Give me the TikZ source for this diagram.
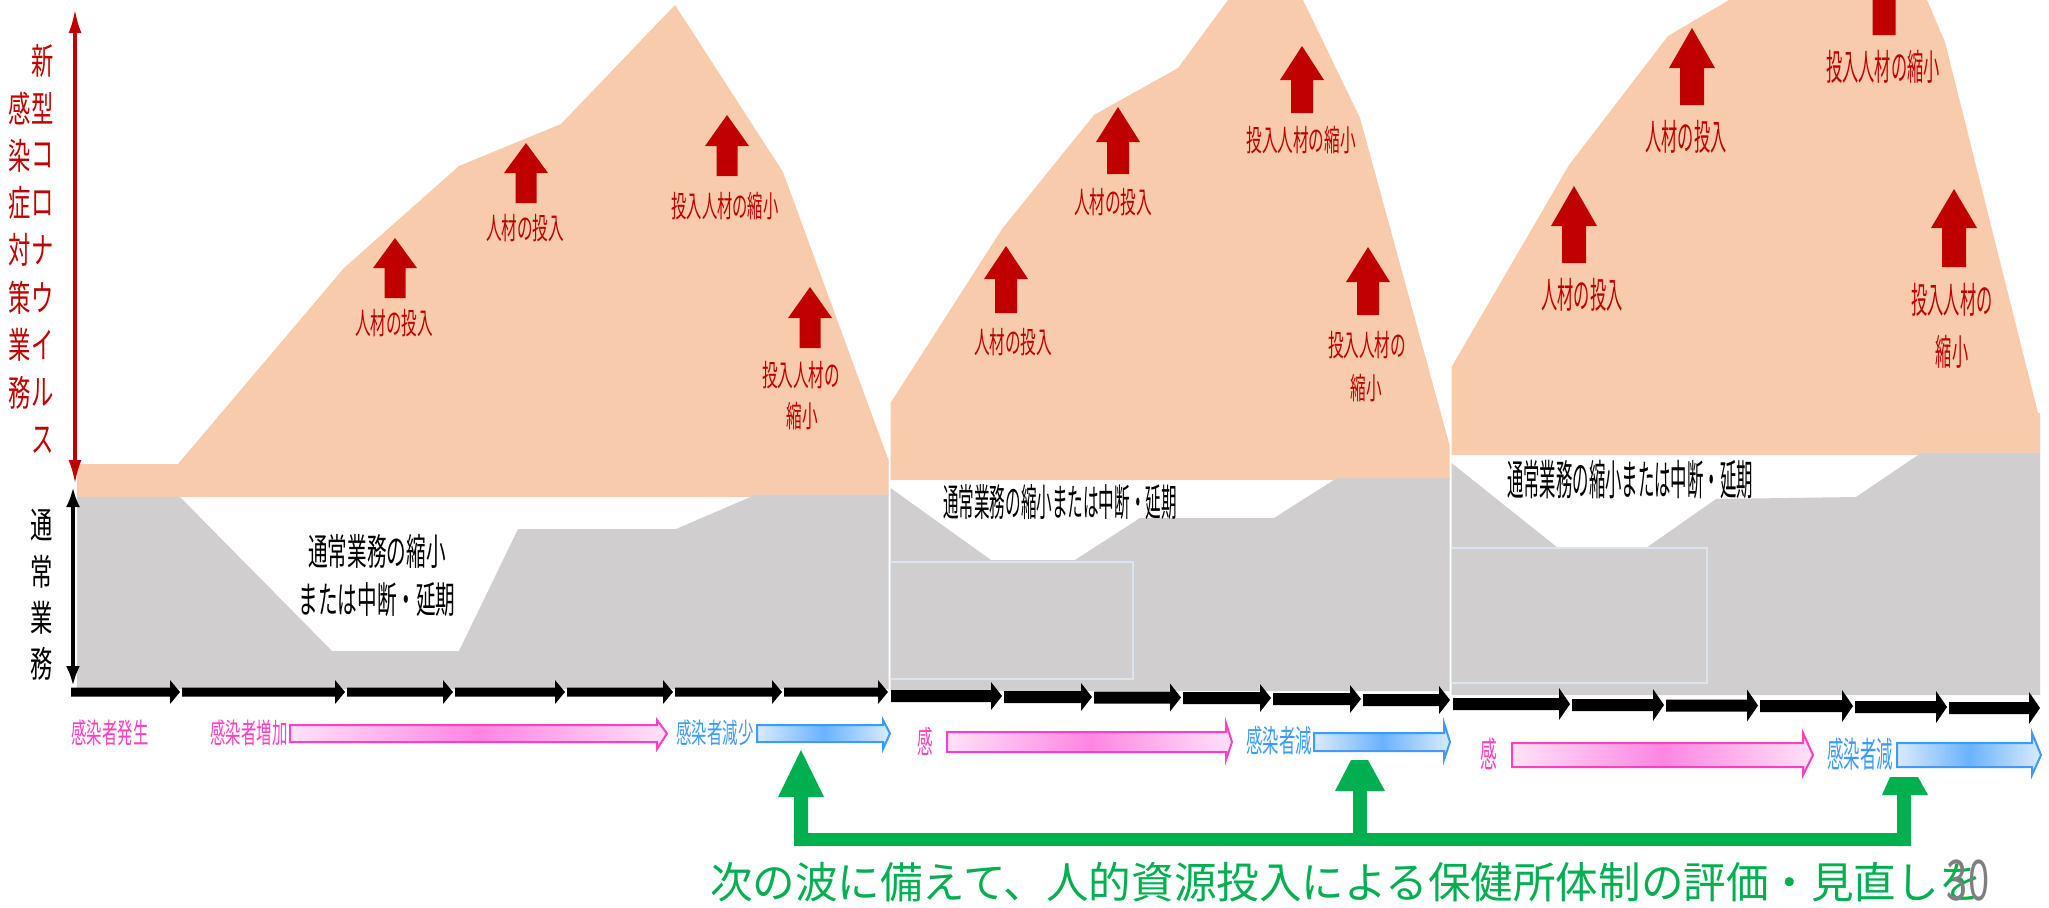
\documentclass[tikz,border=0pt]{standalone}
\usepackage{fontspec}
\setmainfont{Noto Sans CJK JP}
\usepackage{graphicx}
\usetikzlibrary{arrows.meta}
\definecolor{ora}{HTML}{F8CBAD}
\definecolor{gry}{HTML}{D0CECE}
\definecolor{dred}{HTML}{C00000}
\definecolor{pnk}{HTML}{FF3FC3}
\definecolor{blu}{HTML}{3D9BFF}
\definecolor{grn}{HTML}{00B050}
\definecolor{pnkL}{HTML}{FFE2F7}
\definecolor{pnkM}{HTML}{FF85E3}
\definecolor{bluL}{HTML}{D9EBFF}
\definecolor{bluM}{HTML}{6AB2FF}
\definecolor{boxln}{HTML}{DCE4F0}
\definecolor{pgnum}{HTML}{7F7F7F}
\newcommand{\sqz}[2]{\scalebox{#1}[1]{#2}}
% red block up arrow: xc, tip, base, bottom, head half, shaft half
\newcommand{\uparr}[6]{\fill[dred] (#1,#2) -- ({#1+#5},#3) -- ({#1+#6},#3) -- ({#1+#6},#4) -- ({#1-#6},#4) -- ({#1-#6},#3) -- ({#1-#5},#3) -- cycle;}
% black axis segment: x1, x2(tip), yc, shaft half, head half, head length
\newcommand{\seg}[6]{\fill[black] (#1,{#3-#4}) -- ({#2-#6},{#3-#4}) -- ({#2-#6},{#3-#5}) -- (#2,#3) -- ({#2-#6},{#3+#5}) -- ({#2-#6},{#3+#4}) -- (#1,{#3+#4}) -- cycle;}
% block arrow: x1, head start, tip, body top, body bottom, head top, head bottom, style
\newcommand{\barw}[8]{\path[#8] (#1,#4) -- (#2,#4) -- (#2,#6) -- (#3,{(#4+#5)/2}) -- (#2,#7) -- (#2,#5) -- (#1,#5) -- cycle;}
\begin{document}
\begin{tikzpicture}[x=0.5pt,y=-0.5pt,
  txt/.style={inner sep=0pt, outer sep=0pt},
  redlbl/.style={txt, text=dred, font=\fontsize{15pt}{18pt}\selectfont},
  redlblb/.style={txt, text=dred, font=\fontsize{18pt}{21pt}\selectfont},
  vred/.style={txt, text=dred, font=\fontsize{18pt}{21pt}\selectfont},
  vblk/.style={txt, text=black, font=\fontsize{18pt}{21pt}\selectfont},
  blk/.style={txt, text=black},
  pk/.style={txt, text=pnk},
  bl/.style={txt, text=blu},
  pinkarrow/.style={draw=pnk, line width=1pt, left color=pnkL, right color=pnkL, middle color=pnkM},
  bluearrow/.style={draw=blu, line width=1pt, left color=bluL, right color=bluL, middle color=bluM},
  redaxis/.style={draw=dred, line width=1.75pt, {Latex[length=12pt,width=6.5pt]}-{Latex[length=12pt,width=6.5pt]}},
  blkaxis/.style={draw=black, line width=2pt, {Latex[length=10pt,width=7pt]}-{Latex[length=10pt,width=7pt]}},
  faint/.style={draw=boxln, line width=0.8pt}
]
\useasboundingbox (0,0) rectangle (2049,907);
\clip (0,0) rectangle (2049,907);
\fill[white] (0,0) rectangle (2049,907);

% ---------- wave 1 ----------
\fill[ora] (77,497) -- (77,464) -- (178,464) -- (344,268) -- (459,166) -- (561,124) -- (675,5) -- (783,172) -- (888.5,460) -- (888.5,497) -- cycle;
\fill[gry] (77,497) -- (180,497) -- (332,651) -- (459,651) -- (518,529) -- (676,529) -- (755,495) -- (888.5,495) -- (888.5,689) -- (77,689) -- cycle;

% ---------- wave 2 ----------
\fill[ora] (890.5,480) -- (890.5,403) -- (1002,229) -- (1094,115) -- (1178,68) -- (1228,0) -- (1303,0) -- (1360,118) -- (1449.5,445) -- (1449.5,480) -- cycle;
\fill[gry] (890.5,488) -- (991,560) -- (1075,560) -- (1140,518) -- (1274,518) -- (1337,478) -- (1449.5,478) -- (1449.5,691) -- (890.5,691) -- cycle;
\draw[faint] (890.5,562) rectangle (1133,679);

% ---------- wave 3 ----------
\fill[ora] (1451.5,455) -- (1451.5,367) -- (1569,165) -- (1668,36) -- (1729,0) -- (1927,0) -- (1945,42) -- (2038,413) -- (2040,413) -- (2040,455) -- cycle;
\fill[gry] (1451.5,463) -- (1558,548) -- (1646,548) -- (1716,499) -- (1856,497) -- (1921,453) -- (2040,453) -- (2040,695) -- (1451.5,695) -- cycle;
\draw[faint] (1451.5,548) rectangle (1707,683);

% ---------- axes ----------
\coordinate (rtop) at (75,9);
\coordinate (rbot) at (75,484);
\draw[redaxis] (rtop) -- (rbot);
\coordinate (btop) at (73,487);
\coordinate (bbot) at (73,686);
\draw[blkaxis] (btop) -- (bbot);

% time arrows wave 1
\seg{71}{180}{692}{4.5}{12}{10}
\seg{182}{345}{692}{4.5}{12}{10}
\seg{347}{453}{692}{4.5}{12}{10}
\seg{455}{565}{692}{4.5}{12}{10}
\seg{567}{673}{692}{4.5}{12}{10}
\seg{675}{782}{692}{4.5}{12}{10}
\seg{784}{888}{692}{4.5}{12}{10}
% wave 2
\seg{891}{1002}{696}{6}{14}{11}
\seg{1004}{1092}{697}{6}{14}{11}
\seg{1094}{1181}{697.5}{6}{14}{11}
\seg{1183}{1271}{698}{6}{14}{11}
\seg{1273}{1361}{699}{6}{14}{11}
\seg{1363}{1450}{700}{6}{14}{11}
% wave 3
\seg{1453}{1570}{704}{6}{16}{11}
\seg{1572}{1664}{705}{6}{16}{11}
\seg{1666}{1758}{705.5}{6}{16}{11}
\seg{1760}{1853}{706}{6}{16}{11}
\seg{1855}{1947}{707}{6}{16}{11}
\seg{1949}{2040}{708}{6}{16}{11}

% ---------- red block arrows ----------
\uparr{395}{238}{268}{298}{22}{10.5}
\uparr{526}{143}{173}{203}{22}{10.5}
\uparr{727}{115}{146}{176}{22}{10.5}
\uparr{810}{287}{318}{348}{22}{10.5}
\uparr{1006}{246}{279}{313}{22}{11}
\uparr{1118}{107}{142}{174}{22}{11}
\uparr{1302}{46}{80}{113}{22}{11}
\uparr{1368}{247}{282}{315}{22}{11}
\uparr{1574}{186}{226}{263}{23}{12}
\uparr{1692}{28}{68}{105}{23}{12}
\uparr{1884}{-45}{-5}{35}{23}{11.5}
\uparr{1954}{189}{228}{267}{23}{12}

% ---------- red labels ----------
\node[redlbl] (lA) at (394,323) {\sqz{0.52}{人材の投入}};
\node[redlbl] (lB) at (525,228) {\sqz{0.52}{人材の投入}};
\node[redlbl] (lC) at (725,206) {\sqz{0.51}{投入人材の縮小}};
\node[redlbl] (lD1) at (801,375) {\sqz{0.52}{投入人材の}};
\node[redlbl] (lD2) at (802,416) {\sqz{0.52}{縮小}};
\node[redlbl] (lE) at (1013,342) {\sqz{0.52}{人材の投入}};
\node[redlbl] (lF) at (1113,202) {\sqz{0.52}{人材の投入}};
\node[redlbl] (lG) at (1301,140) {\sqz{0.52}{投入人材の縮小}};
\node[redlbl] (lH1) at (1367,345) {\sqz{0.52}{投入人材の}};
\node[redlbl] (lH2) at (1366,388) {\sqz{0.52}{縮小}};
\node[redlblb] (lI) at (1582,295) {\sqz{0.45}{人材の投入}};
\node[redlblb] (lJ) at (1686,137) {\sqz{0.45}{人材の投入}};
\node[redlblb] (lK) at (1883,67) {\sqz{0.45}{投入人材の縮小}};
\node[redlblb] (lL1) at (1952,300) {\sqz{0.45}{投入人材の}};
\node[redlblb] (lL2) at (1952,352) {\sqz{0.45}{縮小}};

% ---------- vertical axis texts ----------
\foreach \c [count=\i] in {新,型,コ,ロ,ナ,ウ,イ,ル,ス}
  \node[vred] (vr\i) at (43,{61+47.4*(\i-1)}) {\sqz{0.62}{\c}};
\foreach \c [count=\i] in {感,染,症,対,策,業,務}
  \node[vred] (vl\i) at (20,{108+47.4*(\i-1)}) {\sqz{0.62}{\c}};
\foreach \c [count=\i] in {通,常,業,務}
  \node[vblk] (vb\i) at (42,{525+46.3*(\i-1)}) {\sqz{0.62}{\c}};

% ---------- texts in the normal-duty area ----------
\node[blk, font=\fontsize{18.5pt}{20pt}\selectfont] (n1a) at (377,551) {\sqz{0.53}{通常業務の縮小}};
\node[blk, font=\fontsize{18.5pt}{20pt}\selectfont] (n1b) at (377,600) {\sqz{0.53}{または中断・延期}};
\node[blk, font=\fontsize{19pt}{20pt}\selectfont] (n2) at (1060,502) {\sqz{0.41}{通常業務の縮小または中断・延期}};
\node[blk, font=\fontsize{21pt}{22pt}\selectfont] (n3) at (1630,480) {\sqz{0.39}{通常業務の縮小または中断・延期}};

% ---------- green arrows (behind the blue arrows) ----------
\fill[grn] (801,750) -- (824,797) -- (808,797) -- (808,846) -- (794,846) -- (794,797) -- (778,797) -- cycle;
\fill[grn] (1351,760) -- (1368,760) -- (1385,791) -- (1367,791) -- (1367,840) -- (1353,840) -- (1353,791) -- (1335,791) -- cycle;
\fill[grn] (1890,777) -- (1918,777) -- (1928,795) -- (1911,795) -- (1911,846) -- (1897,846) -- (1897,795) -- (1882,795) -- cycle;
\fill[grn] (794,833) rectangle (1911,846);

% ---------- pink / blue phase arrows ----------
\barw{290}{657}{667}{725}{742}{720}{749}{pinkarrow}
\barw{757}{883}{890}{725}{742}{720}{749}{bluearrow}
\barw{947}{1226}{1232}{732}{752}{723}{760}{pinkarrow}
\barw{1314}{1444}{1450}{733}{751}{723}{760}{bluearrow}
\barw{1512}{1803}{1813}{743}{767}{733}{775}{pinkarrow}
\barw{1897}{2032}{2041}{743}{767}{733}{775}{bluearrow}

\node[pk, font=\fontsize{14pt}{16pt}\selectfont] (p1) at (110,733) {\sqz{0.55}{感染者発生}};
\node[pk, font=\fontsize{14pt}{16pt}\selectfont] (p2) at (249,733) {\sqz{0.55}{感染者増加}};
\node[bl, font=\fontsize{14pt}{16pt}\selectfont] (b1) at (715,733) {\sqz{0.55}{感染者減少}};
\node[pk, font=\fontsize{15.5pt}{17pt}\selectfont] (p3) at (925,741) {\sqz{0.5}{感}};
\node[bl, font=\fontsize{15.5pt}{17pt}\selectfont] (b2) at (1279,741) {\sqz{0.53}{感染者減}};
\node[pk, font=\fontsize{17.5pt}{19pt}\selectfont] (p4) at (1489,754) {\sqz{0.48}{感}};
\node[bl, font=\fontsize{17.5pt}{19pt}\selectfont] (b3) at (1860,754) {\sqz{0.47}{感染者減}};

% ---------- bottom message ----------
\node[txt, text=grn, anchor=west, font=\fontsize{21.5pt}{24pt}\selectfont] (msg) at (710,882) {\sqz{0.99}{次の波に備えて、人的資源投入による保健所体制の評価・見直しを}};
\node[txt, text=pgnum, font=\fontsize{28pt}{30pt}\selectfont] (pg) at (1968,881) {\sqz{0.68}{30}};
\end{tikzpicture}
\end{document}
